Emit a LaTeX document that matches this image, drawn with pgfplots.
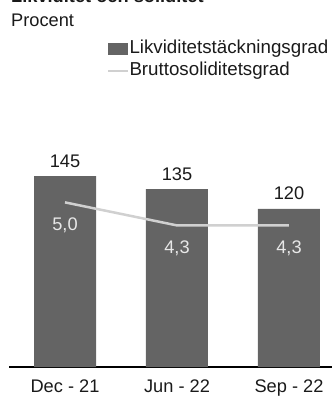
\documentclass[border=0pt]{standalone}
\usepackage{fontspec}
\setmainfont{Liberation Sans}
\usepackage{pgfplots}
\pgfplotsset{compat=1.18}
\definecolor{barc}{HTML}{646464}
\definecolor{linec}{HTML}{D0D0D0}
\definecolor{lblc}{HTML}{E8E8E8}
\definecolor{txt}{HTML}{1A1A1A}
\newcommand{\ff}{\fontsize{18.3}{20}\selectfont}
\begin{document}
\begin{tikzpicture}
\begin{axis}[
  scale only axis,
  width=323bp, height=263.4bp,
  xmin=-0.5, xmax=2.384, ymin=0, ymax=200,
  axis x line*=bottom, axis y line=none,
  x axis line style={black, line width=1.5bp, -},
  xtick={0,1,2}, xticklabels={Dec - 21, Jun - 22, Sep - 22},
  ytick=\empty, major tick length=0pt,
  xticklabel style={anchor=base, yshift=-25.3bp, font=\ff, text=txt, inner sep=0pt},
  clip=false,
  /pgf/number format/assume math mode=true,
  legend style={at={(0.3034,1.2415)}, anchor=north west, draw=none, fill=none,
    inner sep=0pt, outer sep=0pt, font=\fontsize{18.8}{20}\selectfont, text=txt, row sep=4bp,
    nodes={inner sep=0pt, text height=14bp, text depth=4bp},
    /tikz/every even column/.append style={column sep=2bp}},
  legend cell align=left,
]
\addplot[ybar, bar width=62bp, fill=barc, draw=none,
  nodes near coords,
  every node near coord/.append style={anchor=base, yshift=9bp, inner sep=0pt, font=\ff, text=txt},
  legend image code/.code={\fill[barc] (0bp,-6bp) rectangle (20bp,6bp);}]
  coordinates {(0,145) (1,135) (2,120)};
\addlegendentry{Likviditetstäckningsgrad}
\addlegendimage{legend image code/.code={\draw[linec, line width=2.5bp] (0bp,0bp) -- (20bp,0bp);}}
\addlegendentry{Bruttosoliditetsgrad}
\coordinate (O) at (axis cs:0,0);
\end{axis}
\begin{axis}[
  at={(O)}, anchor=origin, scale only axis,
  width=323bp, height=263.4bp,
  xmin=-0.5, xmax=2.384, ymin=0, ymax=8,
  hide axis, clip=false,
  /pgf/number format/assume math mode=true,
]
\addplot[linec, line width=2.5bp, no markers,
  nodes near coords={\pgfmathprintnumber[fixed, fixed zerofill, precision=1, use comma, assume math mode=true]{\pgfplotspointmeta}},
  every node near coord/.append style={anchor=base, yshift=-28bp, inner sep=0pt, font=\ff, text=lblc}]
  coordinates {(0,5.0) (1,4.3) (2,4.3)};
\end{axis}
\node[anchor=base west, inner sep=0, font=\ff\bfseries, text=txt] at ([shift={(-54bp,364bp)}]O) {Likviditet och soliditet};
\node[anchor=base west, inner sep=0, font=\ff, text=txt] at ([shift={(-54bp,340bp)}]O) {Procent};
\pgfresetboundingbox
\useasboundingbox ([shift={(-65bp,-29bp)}]O) rectangle ([shift={(267bp,367bp)}]O);
\end{tikzpicture}
\end{document}
